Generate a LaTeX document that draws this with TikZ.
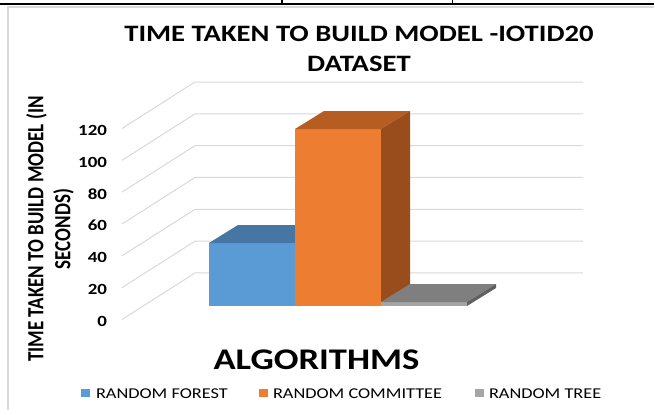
\documentclass[tikz,border=0pt]{standalone}
\usepackage{fontspec}
\setmainfont{Carlito}
\usepackage{graphicx}
\definecolor{gridc}{HTML}{D9D9D9}
\definecolor{framec}{HTML}{D9D9D9}
\definecolor{bluef}{HTML}{5B9BD5}
\definecolor{bluet}{HTML}{4677A4}
\definecolor{orangef}{HTML}{ED7D31}
\definecolor{oranget}{HTML}{B65D22}
\definecolor{oranges}{HTML}{9A4D1C}
\definecolor{grayf}{HTML}{A5A5A5}
\definecolor{grayt}{HTML}{7F7F7F}
\definecolor{grays}{HTML}{606060}
\newcommand\hstretch[1]{\scalebox{1.22}[1]{#1}}
\tikzset{
  gridline/.style={draw=gridc, line width=1pt},
  ticklabel/.style={inner sep=0pt, outer sep=0pt, anchor=base east, font=\fontsize{15.5}{18}\selectfont\bfseries},
  legtext/.style={inner sep=0pt, outer sep=0pt, anchor=base west, font=\fontsize{15}{18}\selectfont},
  legkey/.style={inner sep=0pt, outer sep=0pt, minimum width=9pt, minimum height=8pt, anchor=center},
}
\begin{document}
\begin{tikzpicture}[x=1pt,y=-1pt]
\useasboundingbox (0,0) rectangle (654,410);
\fill[white] (0,0) rectangle (654,410);
% table rule at the top
\draw[line width=2pt] (0,3.5) -- (654,3.5);
\draw[line width=1.5pt] (282,0) -- (282,3.5);
\draw[line width=1.5pt] (452.5,0) -- (452.5,3.5);
% chart frame
\draw[framec, line width=1.5pt] (8,410) -- (8,7) -- (654,7);
% title
\node[inner sep=0pt, outer sep=0pt, anchor=base, font=\fontsize{23.5}{29.5}\selectfont\bfseries] (title) at (359,41.5)
  {\hstretch{\begin{tabular}[t]{@{}c@{}}TIME TAKEN TO BUILD MODEL -IOTID20\\DATASET\end{tabular}}};
% gridlines and tick labels
\foreach \k/\v in {0/120,1/100,2/80,3/60,4/40,5/20,6/0} {
  \pgfmathsetmacro\yb{82+31.83*\k}
  \pgfmathsetmacro\yf{\yb+46.5}
  \draw[gridline] (122,\yf) -- (195,\yb) -- (583,\yb);
  \node[ticklabel] (t\v) at (107,\yf+7) {\hstretch{\v}};
}
% y-axis title
\node[inner sep=0pt, outer sep=0pt, rotate=90, font=\fontsize{19}{22}\selectfont\bfseries] (ytitle) at (51.5,229)
  {\scalebox{1}[1.22]{\begin{tabular}{@{}c@{}}TIME TAKEN TO BUILD MODEL (IN\\SECONDS)\end{tabular}}};
% blue bar (Random Forest)
\fill[bluef] (209,243) rectangle (295,306);
\fill[bluet] (209,243) -- (238,225) -- (324,225) -- (295,243) -- cycle;
% orange bar (Random Committee)
\fill[orangef] (295,129) rectangle (381,306);
\fill[oranget] (295,129) -- (324,111) -- (410,111) -- (381,129) -- cycle;
\fill[oranges] (381,129) -- (410,111) -- (410,288) -- (381,306) -- cycle;
% gray bar (Random Tree)
\fill[grayf] (381,302) rectangle (467,306);
\fill[grayt] (381,302) -- (410,284) -- (496,284) -- (467,302) -- cycle;
\fill[grays] (467,302) -- (496,284) -- (496,288) -- (467,306) -- cycle;
% x-axis title
\node[inner sep=0pt, outer sep=0pt, anchor=base, font=\fontsize{30}{36}\selectfont\bfseries] (xtitle) at (316.5,369)
  {\hstretch{ALGORITHMS}};
% legend
\node[legkey, fill=bluef] (k1) at (85.5,393) {};
\node[legtext] (l1) at (96,398) {\hstretch{RANDOM FOREST}};
\node[legkey, fill=orangef] (k2) at (263.5,393) {};
\node[legtext] (l2) at (273,398) {\hstretch{RANDOM COMMITTEE}};
\node[legkey, fill=grayf] (k3) at (479,393) {};
\node[legtext] (l3) at (489,398) {\hstretch{RANDOM TREE}};
\end{tikzpicture}
\end{document}
